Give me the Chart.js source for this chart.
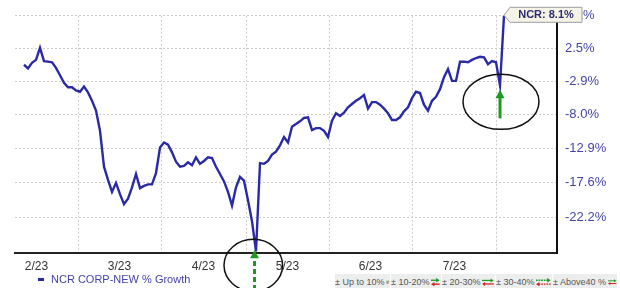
<!DOCTYPE html>
<html><head><meta charset="utf-8">
<script src="https://cdn.jsdelivr.net/npm/chart.js@4/dist/chart.umd.min.js"></script>
<style>
html,body{margin:0;padding:0;background:#fff;}
#wrap{position:relative;width:620px;height:288px;overflow:hidden;background:#fff;}
#c{position:absolute;left:0;top:0;}
#leg1{position:absolute;left:38px;top:272px;height:14px;display:flex;align-items:center;font-family:Arial,"Liberation Sans",sans-serif;font-size:11px;color:#4343a8;white-space:nowrap;}
#leg1 .mk{width:6px;height:3px;background:#2a2aa6;margin-right:7px;}
#bands{position:absolute;left:335px;top:274px;height:15px;display:flex;}
#bands .b{height:15px;background:#eceeed;margin-right:1px;display:flex;align-items:center;justify-content:center;font-family:"Liberation Sans Narrow","Arial Narrow",Arial,sans-serif;font-size:9px;color:#555;white-space:nowrap;}
#bands .b:nth-child(1){width:55px}
#bands .b:nth-child(2){width:50px}
#bands .b:nth-child(3){width:53px}
#bands .b:nth-child(4){width:56px}
#bands .b:nth-child(5){width:64px}
#bands svg{margin-left:2px;}
</style></head><body>
<div id="wrap">
<canvas id="c" width="620" height="288"></canvas>
<div id="leg1"><div class="mk"></div><span id="leg1t"></span></div>
<div id="bands"></div>
</div>
<script>
// ---- data ----
const seriesName = 'NCR CORP-NEW % Growth';
const tickerName = 'NCR';
const growthPct = [
 -0.2, -0.8, 0.1, 0.6, 2.6, 0.4, 0.3, 0.2, -0.7, -1.9,
 -3.1, -3.8, -3.8, -4.3, -4.5, -3.7, -4.6, -5.9, -7.4, -10.4,
 -15.5, -17.3, -18.9, -17.7, -19.2, -20.5, -19.8, -18.3, -16.5, -18.4,
 -18.1, -17.9, -17.9, -16.4, -12.8, -12.1, -12.4, -13.5, -14.8, -15.5,
 -15.4, -14.9, -15.3, -14.2, -15.1, -14.7, -14.2, -14.3, -15.5, -16.5,
 -17.5, -18.9, -20.7, -18.3, -16.9, -17.4, -20.0, -22.7, -26.4, -15.0,
 -15.1, -14.7, -13.8, -13.4, -12.5, -11.3, -12.1, -9.8, -9.4, -9.0,
 -8.5, -8.4, -10.3, -10.0, -10.0, -10.4, -11.3, -8.9, -7.8, -8.2,
 -7.7, -6.9, -6.4, -5.9, -5.5, -5.0, -7.1, -6.1, -6.1, -6.5,
 -7.1, -7.8, -8.8, -8.8, -8.4, -7.5, -6.9, -5.5, -4.5, -4.7,
 -6.5, -7.4, -5.9, -5.3, -4.1, -2.2, -0.9, -2.8, -2.8, 0.3,
 0.3, 0.2, 0.6, 0.9, 1.1, 1.0, -0.1, 0.4, 0.2, -3.5,
 8.1
];
const monthLabels = ['2/23', '3/23', '4/23', '5/23', '6/23', '7/23'];
const monthStarts = [-7.25, 13.5, 34.25, 55.5, 76.25, 97, 118.25]; // trading-day index of month boundaries
const xRange = [-2.25, 133.25];
const yTickPct = [8.1, 2.5, -2.9, -8.0, -12.9, -17.6, -22.2];
const yTickLabels = ['8.1%', '2.5%', '-2.9%', '-8.0%', '-12.9%', '-17.6%', '-22.2%'];
const yRangePct = [-26.6, 8.1];
const bandLabels = ['± Up to 10%', '± 10-20%', '± 20-30%', '± 30-40%', '± Above40 %'];

// ---- legends (HTML) ----
document.getElementById('leg1t').textContent = seriesName;
const arrowLens = [8, 9, 14, 16, 13];
const bandsEl = document.getElementById('bands');
bandLabels.forEach((t, i) => {
  const d = document.createElement('div'); d.className = 'b';
  const s = document.createElement('span'); s.textContent = t; d.appendChild(s);
  const L = arrowLens[i], dash = i === 3 ? 'stroke-dasharray="2,1"' : '';
  d.insertAdjacentHTML('beforeend',
    `<svg width="${L+2}" height="10" viewBox="0 0 ${L+2} 10">
      <line x1="0" y1="3" x2="${L-2}" y2="3" stroke="#1f9a1f" stroke-width="1.6" ${dash}/>
      <polygon points="${L-3},0.5 ${L+1},3 ${L-3},5.5" fill="#1f9a1f"/>
      <line x1="3" y1="7.5" x2="${L+1}" y2="7.5" stroke="#d42020" stroke-width="1.6" ${dash}/>
      <polygon points="4,5 0,7.5 4,10" fill="#d42020"/>
    </svg>`);
  bandsEl.appendChild(d);
});

// ---- chart ----
const mids = monthLabels.map((l, i) => ({ value: (monthStarts[i] + monthStarts[i + 1]) / 2, label: l }));
const gridVals = monthStarts.filter(v => v > xRange[0] && v < xRange[1]);
const near = (a, b) => Math.abs(a - b) < 1e-6;

const annot = {
  id: 'annot',
  afterDraw(chart) {
    const ctx = chart.ctx;
    const pts = chart.getDatasetMeta(0).data;
    const n = pts.length;
    const last = pts[n - 1], pre = pts[n - 2];
    let minI = 0; growthPct.forEach((v, i) => { if (v < growthPct[minI]) minI = i; });
    const dip = pts[minI];
    ctx.save();
    ctx.strokeStyle = '#111'; ctx.lineWidth = 1.5;
    ctx.beginPath(); ctx.ellipse(pre.x + 1, pre.y + 16.5, 38, 27.5, 0, 0, Math.PI * 2); ctx.stroke();
    ctx.strokeStyle = '#1f9a1f'; ctx.fillStyle = '#1f9a1f'; ctx.lineWidth = 3;
    ctx.beginPath(); ctx.moveTo(pre.x, pre.y + 33); ctx.lineTo(pre.x, pre.y + 12); ctx.stroke();
    ctx.beginPath(); ctx.moveTo(pre.x, pre.y + 4.5); ctx.lineTo(pre.x - 4.5, pre.y + 13); ctx.lineTo(pre.x + 4.5, pre.y + 13); ctx.closePath(); ctx.fill();
    ctx.strokeStyle = '#111'; ctx.lineWidth = 1.5;
    ctx.beginPath(); ctx.ellipse(dip.x - 2.7, dip.y + 14, 29.3, 26, 0, 0, Math.PI * 2); ctx.stroke();
    ctx.strokeStyle = '#1f9a1f'; ctx.lineWidth = 3; ctx.setLineDash([5, 3]);
    ctx.beginPath(); ctx.moveTo(dip.x - 1.5, 290); ctx.lineTo(dip.x - 1.5, dip.y + 8); ctx.stroke();
    ctx.setLineDash([]);
    ctx.beginPath(); ctx.moveTo(dip.x - 1.5, dip.y - 1); ctx.lineTo(dip.x - 6, dip.y + 7); ctx.lineTo(dip.x + 3, dip.y + 7); ctx.closePath(); ctx.fill();
    const tx = last.x, ty = last.y - 0.5;
    ctx.beginPath();
    ctx.moveTo(tx, ty); ctx.lineTo(tx + 6, ty - 8); ctx.lineTo(tx + 78, ty - 8);
    ctx.lineTo(tx + 78, ty + 7); ctx.lineTo(tx + 6, ty + 7); ctx.closePath();
    ctx.fillStyle = '#f5f3e6'; ctx.fill();
    ctx.strokeStyle = '#9c9ca4'; ctx.lineWidth = 1; ctx.stroke();
    ctx.fillStyle = '#2c2c6c'; ctx.font = 'bold 11px Arial, "Liberation Sans", sans-serif';
    ctx.textAlign = 'center'; ctx.textBaseline = 'middle';
    ctx.fillText(tickerName + ': ' + growthPct[n - 1].toFixed(1) + '%', tx + 42, ty);
    ctx.restore();
  }
};

new Chart(document.getElementById('c'), {
  type: 'line',
  data: {
    datasets: [{
      label: seriesName,
      data: growthPct.map((p, i) => ({ x: i, y: 100 + p })),
      borderColor: '#2a2aa6', borderWidth: 2.4, pointRadius: 0, tension: 0, clip: false, fill: false
    }]
  },
  options: {
    responsive: false, animation: false, devicePixelRatio: 1,
    layout: { padding: { left: 15, top: 12, right: 0, bottom: 0 } },
    plugins: { legend: { display: false }, tooltip: { enabled: false } },
    scales: {
      x: {
        type: 'linear', position: 'bottom', min: xRange[0], max: xRange[1],
        afterBuildTicks: s => {
          s.ticks = [...gridVals, ...mids.map(m => m.value)].sort((a, b) => a - b).map(v => ({ value: v }));
        },
        afterFit: s => { s.height = 35; },
        ticks: {
          autoSkip: false, maxRotation: 0, minRotation: 0, padding: 6,
          color: '#333', font: { size: 12, family: 'Arial, "Liberation Sans", sans-serif' },
          callback: v => { const m = mids.find(m => near(m.value, v)); return m ? m.label : ''; }
        },
        grid: {
          drawTicks: false, lineWidth: 1,
          color: c => (c.tick && gridVals.some(g => near(g, c.tick.value))) ? '#cdcdcd' : 'rgba(0,0,0,0)'
        },
        border: { display: true, color: '#222', width: 2, dash: [2, 2] }
      },
      y: {
        type: 'logarithmic', position: 'right', min: 100 + yRangePct[0], max: 100 + yRangePct[1],
        afterBuildTicks: s => {
          s.ticks = yTickPct.map(p => ({ value: 100 + p })).sort((a, b) => a.value - b.value);
        },
        afterFit: s => { s.width = 63; },
        ticks: {
          autoSkip: false, padding: 8, color: '#4545a8',
          font: { size: 13, family: 'Arial, "Liberation Sans", sans-serif' },
          callback: v => { const i = yTickPct.findIndex(p => near(100 + p, v)); return i >= 0 ? yTickLabels[i] : ''; }
        },
        grid: { drawTicks: false, lineWidth: 1, color: '#cdcdcd' },
        border: { display: true, color: '#111', width: 2, dash: [2, 2] }
      }
    }
  },
  plugins: [annot]
});
</script>
</body></html>
